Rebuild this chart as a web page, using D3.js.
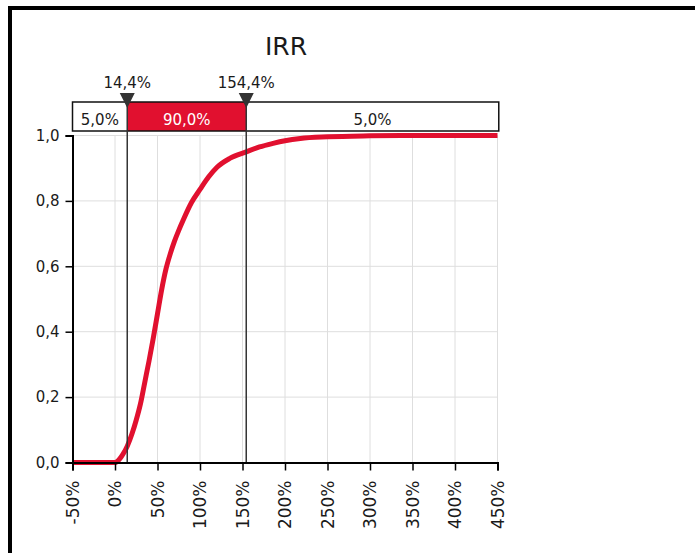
<!DOCTYPE html>
<html>
<head>
<meta charset="utf-8">
<script src="https://cdn.jsdelivr.net/npm/d3@7"></script>
<style>
  html, body { margin: 0; padding: 0; background: #fff; }
  svg { display: block; }
  text { font-family: "DejaVu Sans", Verdana, sans-serif; fill: #1a1a1a; }
</style>
</head>
<body>
<svg id="chart" width="695" height="553"></svg>
<script>
// ---- data ----
const title = "IRR";
const irrPct = [-50, 0, 3, 7, 10, 14.4, 20, 25, 30, 35, 40, 45, 50, 55, 60, 65, 70, 75, 80, 90, 100, 110, 120, 135, 154.4, 170, 186, 200, 218, 250, 300, 350, 400, 450];
const cumProb = [0, 0, 0.004, 0.016, 0.028, 0.05, 0.088, 0.13, 0.18, 0.245, 0.31, 0.38, 0.455, 0.53, 0.592, 0.638, 0.677, 0.71, 0.74, 0.795, 0.835, 0.873, 0.903, 0.93, 0.95, 0.965, 0.976, 0.984, 0.991, 0.996, 0.999, 1, 1, 1];
const xTicks = [-50, 0, 50, 100, 150, 200, 250, 300, 350, 400, 450];
const xTickLabels = ["-50%", "0%", "50%", "100%", "150%", "200%", "250%", "300%", "350%", "400%", "450%"];
const yTicks = [0, 0.2, 0.4, 0.6, 0.8, 1.0];
const yTickLabels = ["0,0", "0,2", "0,4", "0,6", "0,8", "1,0"];
const markers = [14.4, 154.4];
const markerLabels = ["14,4%", "154,4%"];
const bandLabels = ["5,0%", "90,0%", "5,0%"];

// ---- chart ----
const svg = d3.select("#chart");
const red = "#e1102f";

// outer frame (top and left edges)
svg.append("path")
  .attr("d", "M10,553 L10,8 L695,8")
  .attr("fill", "none").attr("stroke", "#000").attr("stroke-width", 4);

const x = d3.scaleLinear().domain([-50, 450]).range([72.5, 497.5]);
const y = d3.scaleLinear().domain([0, 1]).range([462.5, 135.5]);

// title
svg.append("text").attr("x", 286).attr("y", 55)
  .attr("text-anchor", "middle").style("font-size", "25px").text(title);

// gridlines
svg.append("g").selectAll("line").data(xTicks.slice(1)).join("line")
  .attr("x1", d => x(d)).attr("x2", d => x(d))
  .attr("y1", y(1)).attr("y2", y(0))
  .attr("stroke", "#dedede").attr("stroke-width", 1);
svg.append("g").selectAll("line").data(yTicks.slice(1)).join("line")
  .attr("x1", x(-50)).attr("x2", x(450))
  .attr("y1", d => y(d)).attr("y2", d => y(d))
  .attr("stroke", "#dedede").attr("stroke-width", 1);

// band box
const bandTop = 102, bandBot = 131;
const bandEdges = [-50, markers[0], markers[1], 451.5];
svg.append("rect")
  .attr("x", x(markers[0])).attr("y", bandTop)
  .attr("width", x(markers[1]) - x(markers[0])).attr("height", bandBot - bandTop)
  .attr("fill", red);
svg.append("rect")
  .attr("x", x(-50)).attr("y", bandTop)
  .attr("width", x(bandEdges[3]) - x(-50)).attr("height", bandBot - bandTop)
  .attr("fill", "none").attr("stroke", "#111").attr("stroke-width", 1.5);
svg.append("g").selectAll("text").data(bandLabels).join("text")
  .attr("x", (d, i) => (x(bandEdges[i]) + x(bandEdges[i + 1])) / 2)
  .attr("y", 125)
  .attr("text-anchor", "middle")
  .style("font-size", "15px")
  .style("fill", (d, i) => i === 1 ? "#fff" : "#1a1a1a")
  .text(d => d);

// curve
const pts = irrPct.map((v, i) => [v, cumProb[i]]);
svg.append("path").datum(pts)
  .attr("d", d3.line().x(d => x(d[0])).y(d => y(d[1])).curve(d3.curveMonotoneX))
  .attr("fill", "none").attr("stroke", red).attr("stroke-width", 5)
  .attr("stroke-linejoin", "round");

// marker lines, triangles, labels
const mg = svg.append("g");
mg.selectAll("line").data(markers).join("line")
  .attr("x1", d => x(d)).attr("x2", d => x(d))
  .attr("y1", bandTop).attr("y2", y(0))
  .attr("stroke", "#333").attr("stroke-width", 1.5);
mg.selectAll("path").data(markers).join("path")
  .attr("d", d => `M${x(d) - 7.5},93 L${x(d) + 7.5},93 L${x(d)},108 Z`)
  .attr("fill", "#333");
mg.selectAll("text").data(markers).join("text")
  .attr("x", d => x(d)).attr("y", 88)
  .attr("text-anchor", "middle").style("font-size", "15px")
  .text((d, i) => markerLabels[i]);

// axes
const xAxis = d3.axisBottom(x).tickValues(xTicks).tickSize(8)
  .tickFormat((d, i) => xTickLabels[i]);
const gx = svg.append("g").attr("transform", `translate(0,${y(0)})`).call(xAxis);
gx.select(".domain").attr("stroke", "#000").attr("stroke-width", 2);
gx.selectAll(".tick line").attr("stroke", "#000").attr("stroke-width", 1.5);
gx.selectAll(".tick text")
  .attr("transform", "rotate(-90)")
  .attr("x", -18).attr("y", 0).attr("dy", "0.35em")
  .attr("text-anchor", "end")
  .style("font-size", "17px").style("font-family", "DejaVu Sans, sans-serif").attr("fill", "#1a1a1a");

const yAxis = d3.axisLeft(y).tickValues(yTicks).tickSize(7)
  .tickFormat((d, i) => yTickLabels[i]);
const gy = svg.append("g").attr("transform", `translate(${x(-50)},0)`).call(yAxis);
gy.select(".domain").attr("stroke", "#000").attr("stroke-width", 2);
gy.selectAll(".tick line").attr("stroke", "#000").attr("stroke-width", 1.5);
gy.selectAll(".tick text")
  .attr("x", -13)
  .style("font-size", "15px").style("font-family", "DejaVu Sans, sans-serif").attr("fill", "#1a1a1a");
</script>
</body>
</html>
